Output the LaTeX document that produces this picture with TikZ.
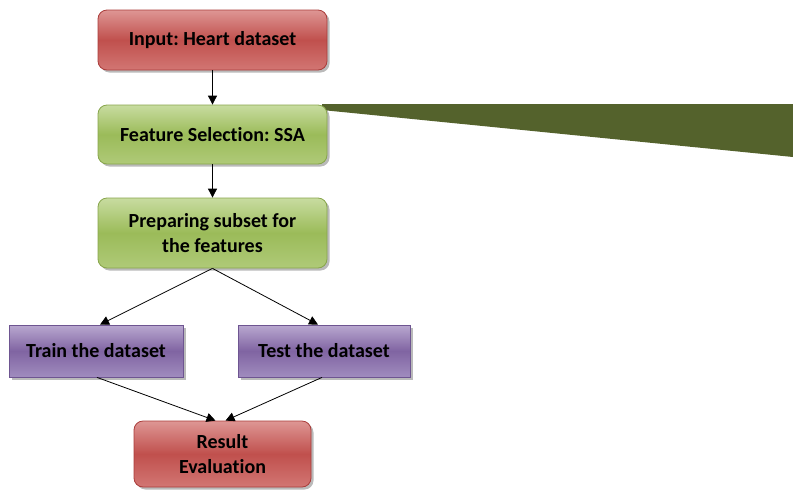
\documentclass[tikz,border=0pt]{standalone}
\usepackage{fontspec}
\setmainfont[Ligatures=NoCommon]{Carlito}
\usetikzlibrary{arrows.meta,shadows,calc}
\frenchspacing

\definecolor{redtop}{RGB}{222,150,148}
\definecolor{redmid}{RGB}{192,80,77}
\definecolor{redbot}{RGB}{210,118,115}
\definecolor{redline}{RGB}{170,60,58}
\definecolor{grntop}{RGB}{200,220,160}
\definecolor{grnmid}{RGB}{155,187,89}
\definecolor{grnbot}{RGB}{175,202,120}
\definecolor{grnline}{RGB}{135,165,75}
\definecolor{purtop}{RGB}{185,168,208}
\definecolor{purmid}{RGB}{128,100,162}
\definecolor{purbot}{RGB}{160,140,190}
\definecolor{purline}{RGB}{110,85,145}
\definecolor{olive}{RGB}{84,98,44}

\tikzset{
  box/.style={font=\fontsize{20}{25}\selectfont\bfseries, text=black,
    align=center, inner sep=0pt, line width=0.8pt,
    drop shadow={shadow xshift=2.5pt, shadow yshift=-2.5pt, opacity=0.45, fill=black!60}},
  redbox/.style={box, rounded corners=9pt, draw=redline,
    top color=redtop, bottom color=redbot, middle color=redmid},
  grnbox/.style={box, rounded corners=9pt, draw=grnline,
    top color=grntop, bottom color=grnbot, middle color=grnmid},
  purbox/.style={box, draw=purline,
    top color=purtop, bottom color=purbot, middle color=purmid},
  link/.style={-{Triangle[length=9pt,width=9pt]}, line width=0.8pt, black}
}

\begin{document}
\begin{tikzpicture}[x=1pt,y=-1pt]
\useasboundingbox (0,0) rectangle (793,491);

% wedge leaving the feature selection step
\fill[olive] (322,104) -- (793,104) -- (793,157) -- (322,110) -- cycle;

\node[redbox, minimum width=229pt, minimum height=60pt] (input) at (212.5,40) {Input: Heart dataset};
\node[grnbox, minimum width=229pt, minimum height=59pt] (fs) at (212.5,134.5) {Feature Selection: SSA};
\node[grnbox, minimum width=229pt, minimum height=70pt] (prep) at (212.5,233) {Preparing subset for\\the features};
\node[purbox, minimum width=174pt, minimum height=52pt] (train) at (96,351) {Train the dataset};
\node[purbox, minimum width=172pt, minimum height=52pt] (test) at (324,351) {Test the dataset};
\node[redbox, minimum width=177pt, minimum height=66pt] (res) at (222.5,454) {Result\\Evaluation};

\draw[link] (input) -- (fs);
\draw[link] (fs) -- (prep);
\draw[link] (prep.south) -- ($(train.north)+(4,0)$);
\draw[link] (prep.south) -- ($(test.north)+(-6,0)$);
\draw[link] ($(train.south)+(1,0)$) -- ($(res.north)+(-7,0)$);
\draw[link] ($(test.south)+(-2,0)$) -- ($(res.north)+(3,0)$);
\end{tikzpicture}
\end{document}
